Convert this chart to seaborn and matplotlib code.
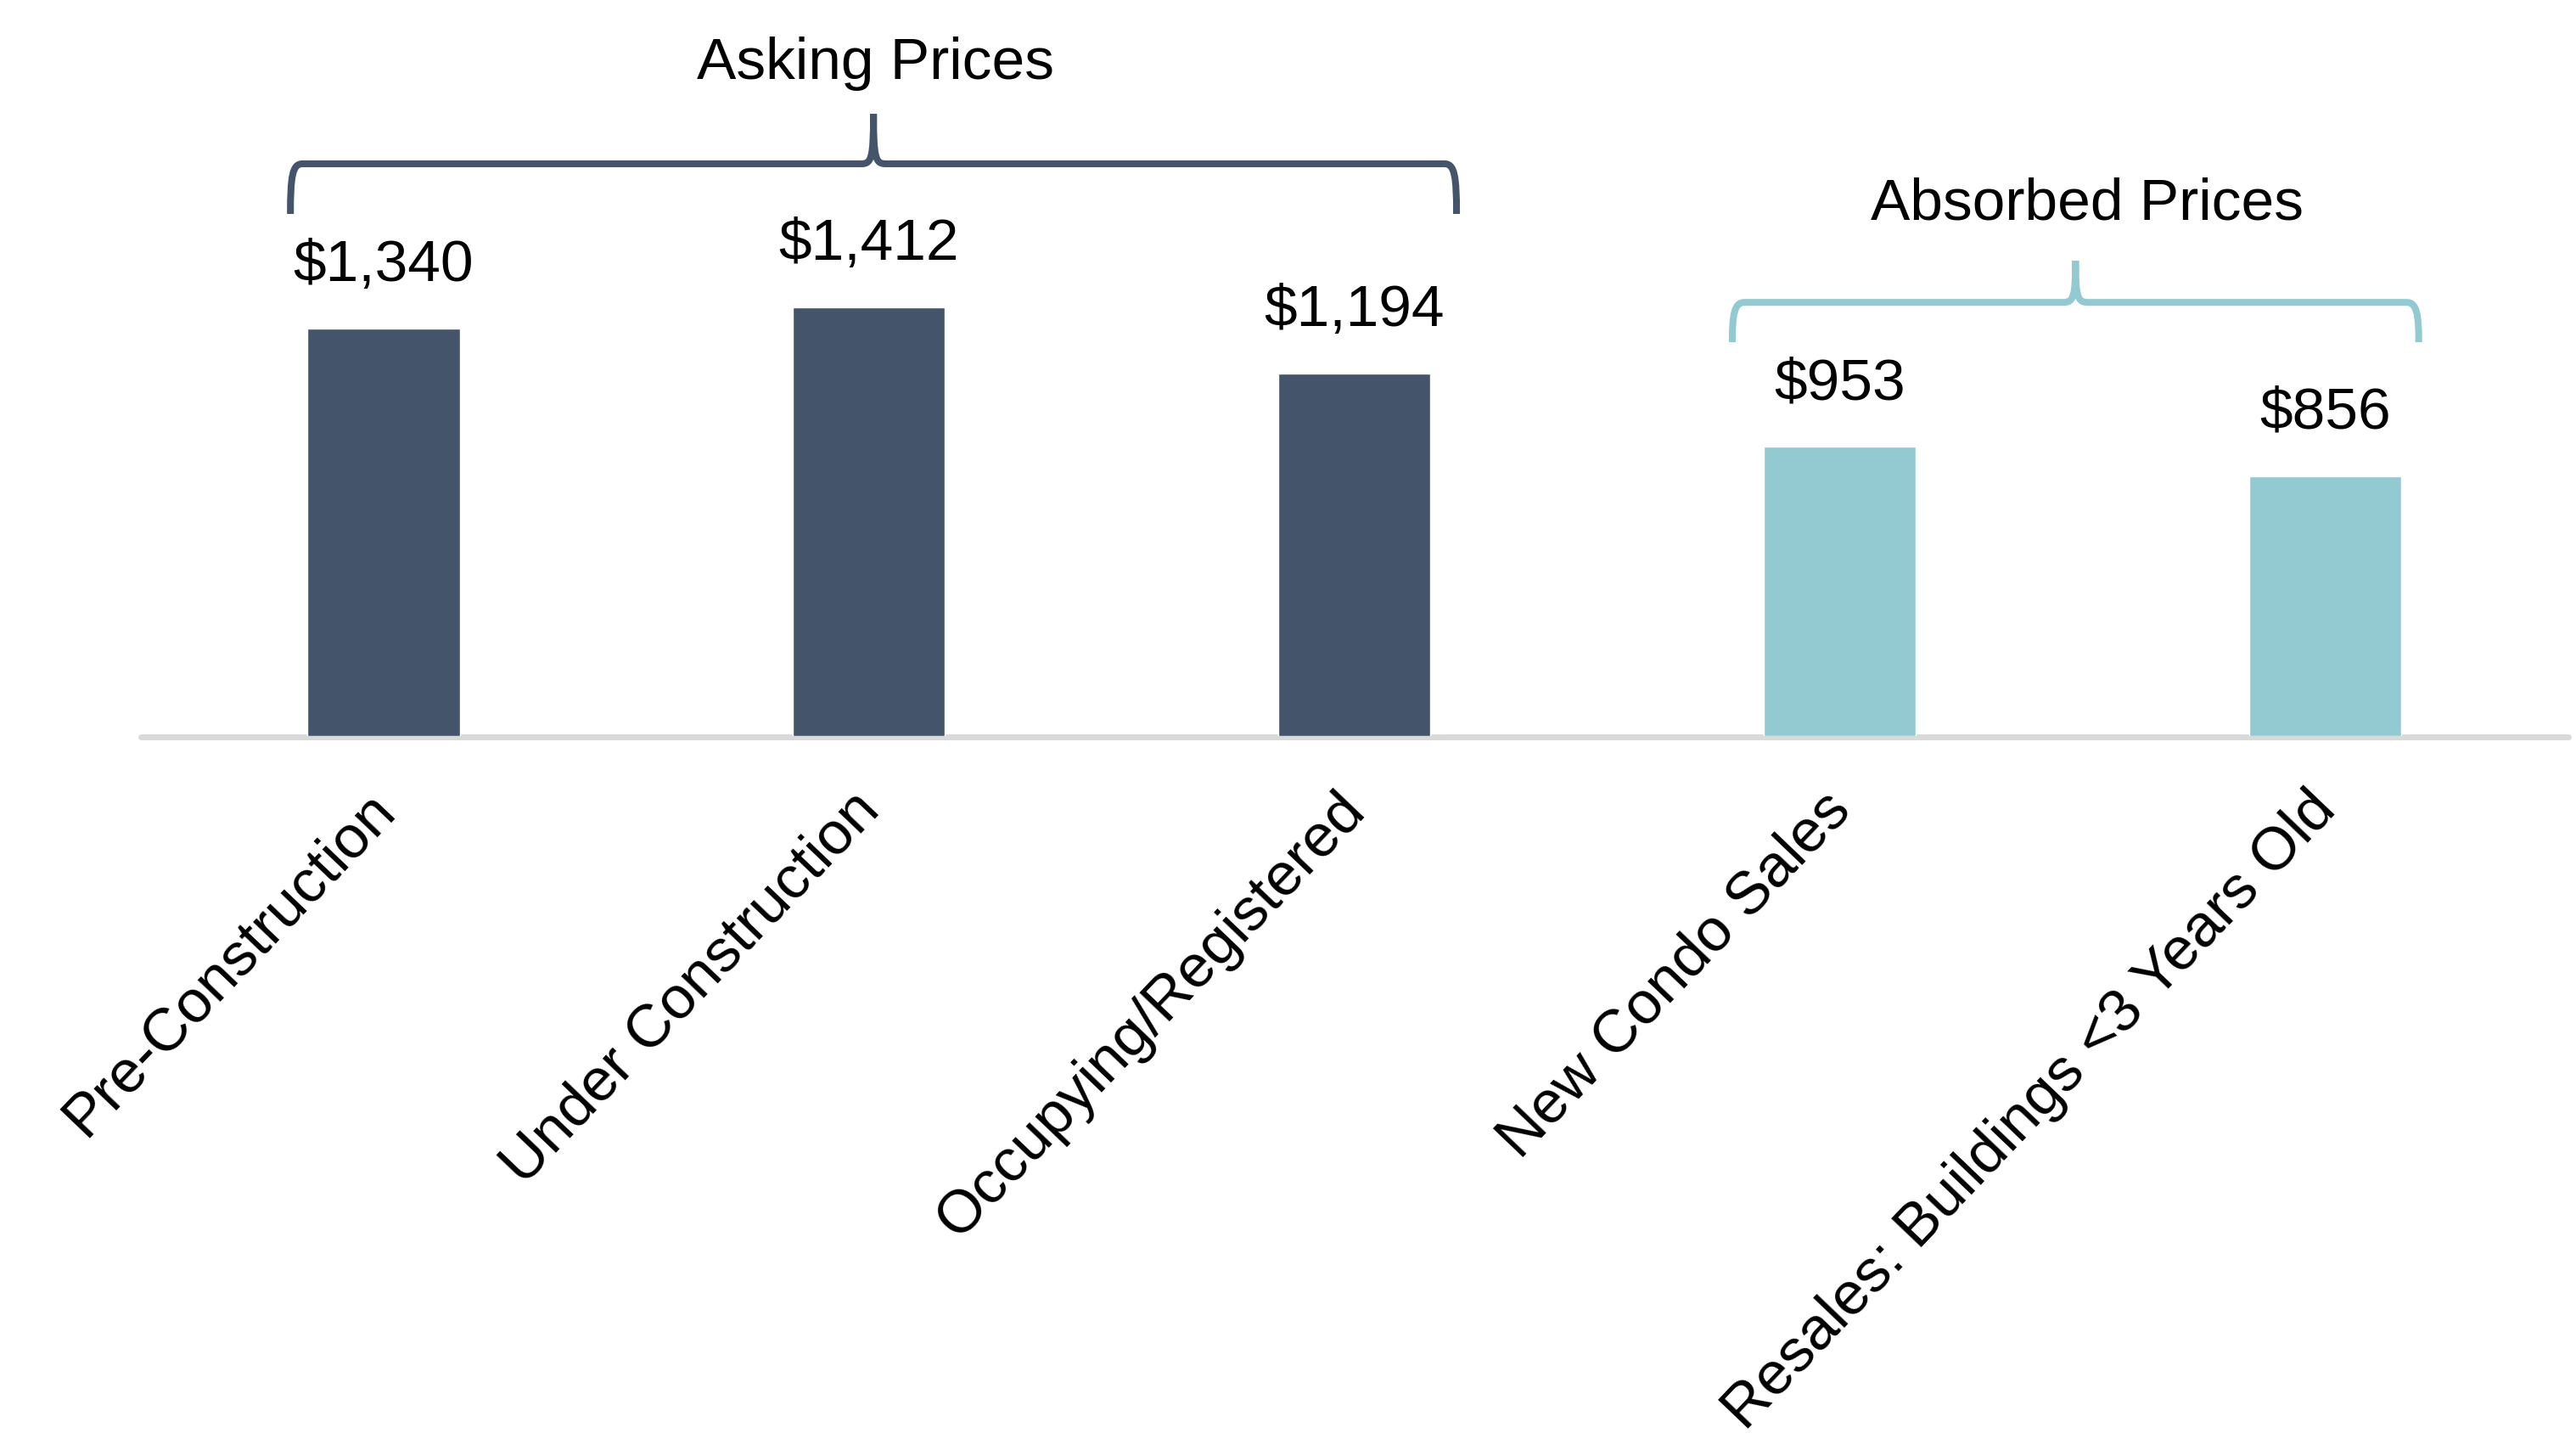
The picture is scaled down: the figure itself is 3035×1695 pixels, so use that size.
import matplotlib
matplotlib.use("Agg")
import matplotlib.pyplot as plt
import matplotlib.transforms as mtransforms
from matplotlib.path import Path
from matplotlib.patches import PathPatch
import pandas as pd
import seaborn as sns

# Price per square foot by stage
categories = [
    "Pre-Construction",
    "Under Construction",
    "Occupying/Registered",
    "New Condo Sales",
    "Resales: Buildings <3 Years Old",
]
prices = [1340, 1412, 1194, 953, 856]
groups = ["Asking Prices", "Asking Prices", "Asking Prices",
          "Absorbed Prices", "Absorbed Prices"]

DARK = "#44546A"
LIGHT = "#93CAD2"
group_colors = {"Asking Prices": DARK, "Absorbed Prices": LIGHT}

df = pd.DataFrame({"category": categories, "price": prices, "group": groups})

sns.set_style("white")
plt.rcParams["font.family"] = ["Liberation Sans", "DejaVu Sans"]
plt.rcParams["text.color"] = "black"
plt.rcParams["xtick.color"] = "black"

FS = 50
DPI = 100
fig = plt.figure(figsize=(30.35, 16.95), dpi=DPI)
ax = fig.add_axes([0.0547, 0.4885, 0.9423, 0.5115])

sns.barplot(
    data=df, x="category", y="price", hue="group", order=categories,
    palette=group_colors, width=0.313, dodge=False, legend=False,
    saturation=1, ax=ax, zorder=3,
)

ax.set_xlim(-0.5, len(categories) - 0.5)
ax.set_ylim(0, 2422)
for s in ax.spines.values():
    s.set_visible(False)
ax.set_yticks([])
ax.set_xlabel("")
ax.set_ylabel("")

# Baseline
ax.axhline(-4, color="#D9D9D9", lw=5, zorder=1, clip_on=False)

# Category labels, rotated
ax.tick_params(axis="x", length=0, pad=64, colors="black")
ax.set_xticks(range(len(categories)))
ax.set_xticklabels(categories, fontsize=51, rotation=46.3, ha="right",
                   va="baseline", rotation_mode="anchor", color="black")
shift = mtransforms.ScaledTranslation(0.15, 0, fig.dpi_scale_trans)
for lbl in ax.get_xticklabels():
    lbl.set_transform(lbl.get_transform() + shift)

# Value labels
for i, v in enumerate(prices):
    ax.text(i, v + 156, f"${v:,}", ha="center", va="baseline",
            fontsize=FS, color="black")


def brace(ax, x0, x1, y_line, y_end, y_tip, color):
    """Horizontal curly brace with downturned ends and a central upward tip."""
    xm = (x0 + x1) / 2
    dx = 0.025
    verts = [
        (x0, y_end), (x0, y_line - 40), (x0 + 0.004, y_line), (x0 + dx, y_line),
        (xm - dx, y_line), (xm - 0.004, y_line), (xm, y_line + 20), (xm, y_tip),
        (xm, y_tip), (xm, y_line + 20), (xm + 0.004, y_line), (xm + dx, y_line),
        (x1 - dx, y_line), (x1 - 0.004, y_line), (x1, y_line - 40), (x1, y_end),
    ]
    codes = [
        Path.MOVETO, Path.CURVE4, Path.CURVE4, Path.CURVE4,
        Path.LINETO, Path.CURVE4, Path.CURVE4, Path.CURVE4,
        Path.MOVETO, Path.CURVE4, Path.CURVE4, Path.CURVE4,
        Path.LINETO, Path.CURVE4, Path.CURVE4, Path.CURVE4,
    ]
    ax.add_patch(PathPatch(Path(verts, codes), facecolor="none",
                           edgecolor=color, lw=5.8, capstyle="butt",
                           joinstyle="round", clip_on=False))


brace(ax, -0.192, 2.21, 1883, 1718, 2047, DARK)
ax.text(1.014, 2162, "Asking Prices", ha="center", va="baseline", fontsize=FS)

brace(ax, 2.778, 4.192, 1427, 1296, 1564, LIGHT)
ax.text(3.509, 1701, "Absorbed Prices", ha="center", va="baseline", fontsize=FS)

fig.savefig("out.png", dpi=DPI)
